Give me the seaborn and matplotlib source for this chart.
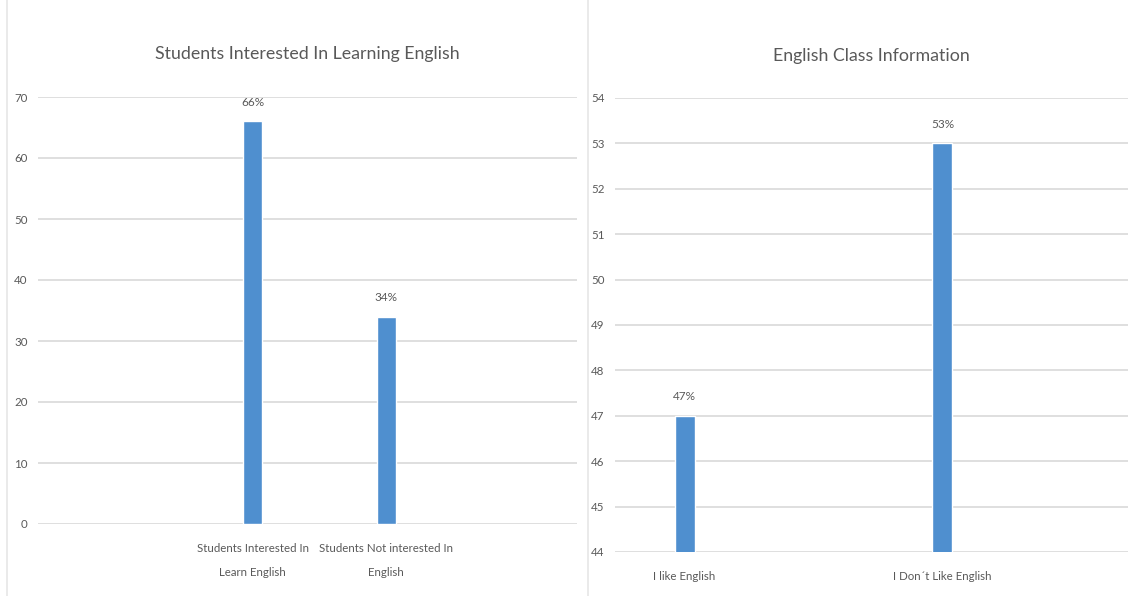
import matplotlib
matplotlib.use("Agg")
import matplotlib.pyplot as plt
import seaborn as sns
import pandas as pd
from matplotlib.lines import Line2D

# ---- data ----
left_categories = ["Students Interested In\nLearn English", "Students Not interested In\nEnglish"]
left_values = [66, 34]
left_labels = ["66%", "34%"]
left_yticks = [0, 10, 20, 30, 40, 50, 60, 70]

right_categories = ["I like English", "I Don\u00b4t Like English"]
right_values = [47, 53]
right_labels = ["47%", "53%"]
right_yticks = [44, 45, 46, 47, 48, 49, 50, 51, 52, 53, 54]

left_title = "Students Interested In Learning English"
right_title = "English Class Information"

sns.set_theme(style="white")
plt.rcParams['font.family'] = ['Lato', 'DejaVu Sans']

BAR = "#4F8FCF"
TXT = "#595959"
GRID = "#D9D9D9"

fig = plt.figure(figsize=(11.35, 5.96), dpi=100)
fig.patch.set_facecolor("white")

# faint chart-area borders (drawn first, behind everything)
for x in [7/1135, 588/1135]:
    fig.add_artist(Line2D([x, x], [0, 1], color="#E6E6E6", linewidth=1.2,
                          transform=fig.transFigure, zorder=0))

axL = fig.add_axes([38/1135, 1-524/596, 539/1135, 427/596])
axR = fig.add_axes([615/1135, 1-552/596, 513/1135, 454/596])
for ax in (axL, axR):
    ax.patch.set_alpha(0)

def style(ax, df, ylim, yticks, labels, title, xlim, width, lpad, xsize):
    sns.barplot(data=df, x="cat", y="val", ax=ax, color=BAR, width=width,
                saturation=1)
    ax.set_ylim(*ylim)
    ax.set_yticks(yticks)
    ax.set_xlim(*xlim)
    ax.set_xlabel("")
    ax.set_ylabel("")
    for s in ax.spines.values():
        s.set_visible(False)
    ax.yaxis.grid(True, color=GRID, linewidth=1.2)
    ax.set_axisbelow(True)
    ax.tick_params(axis="both", length=0, colors=TXT)
    ax.tick_params(axis="y", pad=lpad, labelsize=8.3)
    ax.tick_params(axis="x", pad=14, labelsize=xsize)
    for t in ax.get_xticklabels():
        t.set_linespacing(2.4)
    ax.set_title(title, color=TXT, fontsize=12.8, pad=27)
    for p, lab in zip(ax.patches, labels):
        ax.annotate(lab, (p.get_x() + p.get_width()/2, p.get_height()),
                    xytext=(0, 10), textcoords="offset points",
                    ha="center", va="bottom", fontsize=8.5, color=TXT)

dfL = pd.DataFrame({"cat": left_categories, "val": left_values})
dfR = pd.DataFrame({"cat": right_categories, "val": right_values})

style(axL, dfL, (0, 70), left_yticks, left_labels, left_title,
      (-1.61, 2.43), 0.14, 7.5, 8.3)
style(axR, dfR, (44, 54), right_yticks, right_labels, right_title,
      (-0.27, 1.72), 0.078, 7.5, 8.3)

fig.savefig("out.png", dpi=100, facecolor="white")
